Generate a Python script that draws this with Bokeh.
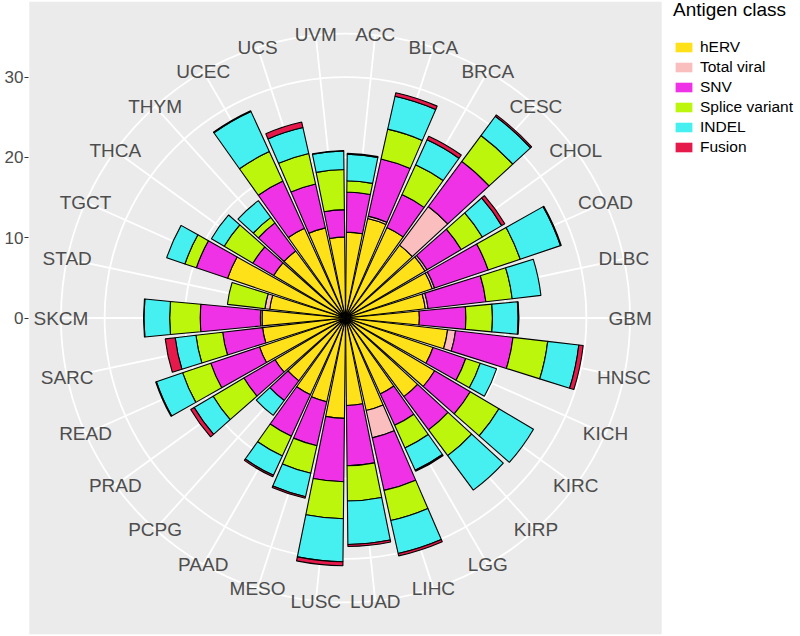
import math
from bokeh.plotting import figure
from bokeh.models import ColumnDataSource, Range1d, FixedTicker, BoxAnnotation, Legend, LegendItem
from bokeh.core.properties import value
from bokeh.embed import file_html
from bokeh.resources import INLINE

# ---------------- data ----------------
cancer_types = ["ACC", "BLCA", "BRCA", "CESC", "CHOL", "COAD", "DLBC", "GBM", "HNSC", "KICH",
                "KIRC", "KIRP", "LGG", "LIHC", "LUAD", "LUSC", "MESO", "PAAD", "PCPG", "PRAD",
                "READ", "SARC", "SKCM", "STAD", "TGCT", "THCA", "THYM", "UCEC", "UCS", "UVM"]
antigen_classes = ["hERV", "Total viral", "SNV", "Splice variant", "INDEL", "Fusion"]
class_colors = ["#ffe119", "#fabebe", "#f032e6", "#bcf60c", "#46f0f0", "#e6194b"]

herv = [10.7, 12.7, 12.4, 11.3, 11.5, 11.4, 10.0, 9.2, 12.8, 11.5,
        12.9, 12.2, 10.4, 11.8, 10.9, 12.5, 10.7, 10.5, 9.75, 10.2,
        11.3, 10.4, 10.4, 9.5, 15.5, 10.4, 10.4, 12.3, 11.5, 10.1]
total_viral = [0.0, 0.3, 0.0, 6.0, 0.3, 0.3, 0.35, 0.0, 1.0, 0.0,
               0.0, 0.0, 0.0, 3.5, 0.0, 0.0, 0.0, 0.0, 0.0, 0.0,
               0.0, 0.0, 0.2, 0.6, 0.0, 0.0, 0.0, 0.0, 0.0, 0.0]
snv = [5.0, 7.3, 4.5, 7.0, 4.95, 7.05, 7.25, 5.8, 7.2, 4.3,
       5.15, 5.15, 4.3, 6.7, 7.5, 7.9, 5.6, 5.7, 3.05, 4.5,
       6.4, 5.0, 7.5, 0.0, 4.1, 3.0, 4.35, 6.45, 5.6, 3.4]
splice_variant = [1.4, 3.8, 4.1, 4.0, 3.05, 4.2, 3.3, 3.3, 4.35, 1.9,
                  4.15, 4.0, 3.1, 3.85, 4.4, 4.6, 3.5, 2.7, 0.0, 4.45,
                  3.7, 3.35, 3.8, 4.7, 1.5, 4.15, 0.85, 4.05, 3.9, 5.0]
indel = [3.3, 4.2, 3.4, 3.0, 2.8, 5.3, 3.6, 3.2, 3.9, 2.15,
         5.0, 5.35, 3.05, 4.2, 5.4, 5.35, 3.0, 2.65, 2.3, 2.75,
         3.45, 2.6, 3.2, 0.0, 2.4, 1.85, 2.6, 5.5, 3.3, 2.3]
fusion = [0.1, 0.45, 0.5, 0.2, 0.45, 0.1, 0.0, 0.1, 0.55, 0.0,
          0.0, 0.0, 0.15, 0.3, 0.25, 0.5, 0.2, 0.2, 0.0, 0.5,
          0.1, 1.25, 0.05, 0.0, 0.0, 0.0, 0.0, 0.1, 0.7, 0.05]
series = [herv, total_viral, snv, splice_variant, indel, fusion]
r_ticks = [0, 10, 20, 30]

# ---------------- geometry (ggplot coord_polar look) ----------------
n = len(cancer_types)
totals = [sum(s[i] for s in series) for i in range(n)]
r_max = max(totals)                 # bars fill 0.4 of the panel
r_outer = r_max * 0.45 / 0.4        # outer ring / label ring
half_panel = r_max * 0.5 / 0.4

PX = 8.03          # pixels per data unit
LEFT = 28          # left border (radial axis)
W, H = 800, 636
FW = W - LEFT
CX = 345 - LEFT
CY = 317.5

p = figure(frame_width=FW, frame_height=H,
           x_range=Range1d(-CX / PX, (FW - CX) / PX),
           y_range=Range1d(-(H - CY) / PX, CY / PX),
           output_backend="svg", toolbar_location=None,
           x_axis_location=None, y_axis_location="left",
           min_border=0, min_border_left=LEFT, outline_line_color=None,
           background_fill_color="white", border_fill_color="white")
p.xgrid.visible = False
p.ygrid.visible = False

# panel background
p.add_layout(BoxAnnotation(left=-half_panel, right=half_panel, bottom=-half_panel, top=half_panel,
                           fill_color="#EBEBEB", fill_alpha=1.0, line_color=None, level="underlay"))

# radial axis
ax = p.yaxis[0]
ax.ticker = FixedTicker(ticks=r_ticks)
ax.axis_line_color = None
ax.major_tick_line_color = "#333333"
ax.major_tick_line_width = 1.2
ax.major_tick_out = 4
ax.major_tick_in = 0
ax.minor_tick_line_color = None
ax.major_label_standoff = 1
ax.major_label_text_font = "Liberation Sans"
ax.major_label_text_font_size = "17px"
ax.major_label_text_color = "#4D4D4D"

step = 2 * math.pi / n
theta = [(i + 0.5) * step for i in range(n)]
half_w = 0.45 * step

# grid: circles + spokes
rings = [t for t in r_ticks if t > 0] + [r_outer]
p.circle(x=[0] * len(rings), y=[0] * len(rings), radius=rings,
         fill_color=None, line_color="white", line_width=1.8)
p.segment(x0=[0] * n, y0=[0] * n,
          x1=[r_outer * math.sin(t) for t in theta],
          y1=[r_outer * math.cos(t) for t in theta],
          line_color="white", line_width=1.8)

# stacked polar bars
rows = dict(inner=[], outer=[], start=[], end=[], color=[])
for i in range(n):
    base = 0.0
    for k, s in enumerate(series):
        v = s[i]
        if v > 0:
            rows["inner"].append(base)
            rows["outer"].append(base + v)
            rows["start"].append(math.pi / 2 - theta[i] - half_w)
            rows["end"].append(math.pi / 2 - theta[i] + half_w)
            rows["color"].append(class_colors[k])
        base += v
src = ColumnDataSource(rows)
p.annular_wedge(x=0, y=0, inner_radius="inner", outer_radius="outer",
                start_angle="start", end_angle="end", direction="anticlock",
                fill_color="color", line_color="black", line_width=1.1, source=src)

# category labels on the outer ring
p.text(x=[r_outer * math.sin(t) for t in theta], y=[r_outer * math.cos(t) for t in theta],
       text=cancer_types, text_align="center", text_baseline="middle",
       text_font=value("Liberation Sans"), text_font_size=value("19px"), text_color="#4D4D4D")

# legend (zero-area proxies carry the key colours)
items = []
for name, col in zip(antigen_classes, class_colors):
    r = p.quad(left=[0], right=[0], top=[0], bottom=[0], fill_color=col, line_color=None)
    items.append(LegendItem(label=name, renderers=[r]))
legend = Legend(items=items, title="Antigen class", location=(645, 480),
                orientation="vertical", border_line_color=None, background_fill_alpha=0,
                padding=0, margin=0, spacing=2, glyph_width=21, glyph_height=12,
                label_height=12, label_standoff=6, title_standoff=17,
                label_text_font="Liberation Sans", label_text_font_size="15.5px",
                label_text_color="black",
                title_text_font="Liberation Sans", title_text_font_size="19px",
                title_text_font_style="normal", title_text_color="black")
p.add_layout(legend, "center")

open("out.html", "w").write(file_html(p, INLINE))
